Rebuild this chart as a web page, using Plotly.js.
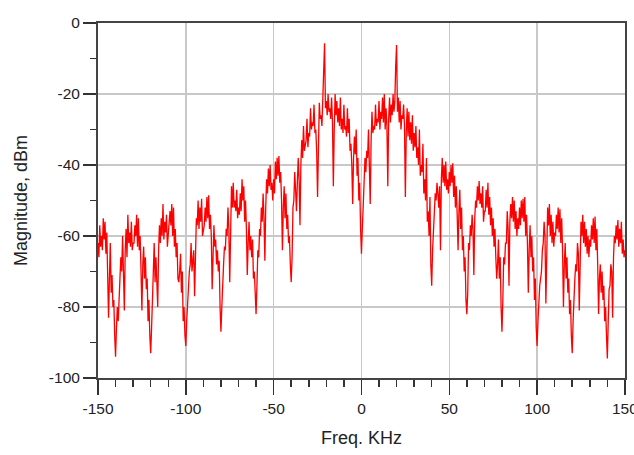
<!DOCTYPE html>
<html>
<head>
<meta charset="utf-8">
<script src="https://cdn.plot.ly/plotly-3.0.1.min.js"></script>
<style>html,body{margin:0;padding:0;background:#fff;}#chart{width:634px;height:455px;}</style>
</head>
<body>
<div id="chart"></div>
<script>
// Frequency axis start and step (kHz)
const freqStart = -150;
const freqStep = 1;
// Magnitude in dBm at each whole kHz from -150 to 150 (upper trace of the band)
const magnitudeDbm = [
  -62, -57, -60, -55, -56, -59, -83, -62, -71, -78,
  -94, -80, -74, -66, -60, -81, -58, -54, -59, -56,
  -62, -57, -54, -55, -60, -81, -63, -66, -72, -78,
  -93, -74, -62, -66, -80, -57, -55, -51, -56, -54,
  -60, -53, -51, -52, -58, -62, -73, -65, -70, -80,
  -91, -78, -70, -62, -66, -77, -55, -50, -52, -49.5,
  -58, -52, -49, -48.5, -54, -75, -57, -61, -64, -67,
  -87, -70, -63, -58, -52, -73, -46, -45, -50, -47,
  -52, -48, -44, -46, -50, -71, -56, -60, -61, -70,
  -82, -64, -58, -52, -48, -67, -44, -41, -40, -45,
  -44, -39, -38, -37.5, -42, -64, -46, -48, -54, -60,
  -73, -52, -42, -53, -38, -57, -33, -29, -34, -27,
  -31, -24, -28, -23, -30, -49, -22.5, -26, -21, -5.7,
  -22, -20, -24, -21, -46, -20, -22, -24, -21, -27,
  -23, -29, -24, -27, -34, -51, -32, -30, -38, -45,
  -65,
  -48, -38, -36, -30, -51, -25, -29, -23, -27, -22,
  -25, -21, -20, -24, -46, -21, -23, -20, -22, -6.2,
  -21, -22, -26, -23, -49, -24, -25, -28, -26, -31,
  -29, -35, -30, -40, -34, -44, -38, -53, -49, -74,
  -58, -48, -45, -52, -64, -38, -40, -39, -44, -42,
  -40, -39.5, -43, -46, -64, -47, -52, -60, -66, -82,
  -62, -57, -54, -71, -50, -46, -44.5, -48, -46, -53,
  -47, -45, -49, -52, -55, -58, -72, -61, -66, -87,
  -66, -62, -53, -74, -51, -49, -50, -53, -55, -52,
  -50, -49.5, -49, -54, -76, -57, -60, -66, -72, -91,
  -78, -72, -64, -56, -79, -52, -51, -54, -56, -59,
  -54, -52, -52.5, -55, -80, -62, -66, -72, -78, -93,
  -76, -68, -62, -81, -56, -54, -56, -58, -60, -61,
  -57, -55, -54.5, -58, -82, -68, -70, -74, -80, -94.5,
  -75, -68, -83, -60, -57, -55.5, -58, -56, -61, -64
];
// Magnitude in dBm at the half-kHz points -149.5 ... 149.5 (lower trace of the band)
const magnitudeHalfDbm = [
  -66, -63, -64, -61, -65, -70, -72, -76, -80, -88,
  -86, -84, -72, -70, -68, -64, -66, -62, -63, -64,
  -62, -60, -63, -64, -70, -68, -72, -75, -84, -88,
  -86, -70, -73, -72, -64, -62, -60, -61, -59, -63,
  -58, -57, -60, -63, -66, -72, -70, -76, -84, -88,
  -84, -74, -68, -70, -64, -62, -57, -58, -56, -60,
  -57, -56, -55, -58, -60, -64, -63, -68, -70, -80,
  -80, -68, -64, -60, -58, -54, -52, -52, -53, -55,
  -54, -53, -50, -56, -58, -62, -64, -66, -72, -76,
  -74, -66, -60, -56, -55, -52, -48, -46, -47, -50,
  -48, -44, -43, -45, -50, -52, -55, -58, -62, -68,
  -66, -50, -47, -45, -44, -40, -38, -36, -33, -35,
  -32, -30, -29, -31, -36, -30, -27, -29, -10, -24,
  -26, -25, -27, -28, -30, -26, -28, -29, -30, -31,
  -30, -32, -31, -36, -40, -38, -37, -43, -50, -58,
  -58, -45, -42, -38, -40, -33, -31, -30, -29, -28,
  -30, -27, -28, -30, -29, -27, -28, -26, -25, -12,
  -25, -28, -30, -27, -29, -31, -32, -33, -34, -36,
  -35, -38, -40, -43, -42, -48, -50, -56, -60, -68,
  -64, -55, -50, -48, -46, -44, -45, -46, -47, -48,
  -46, -45, -49, -52, -54, -53, -58, -64, -70, -78,
  -76, -64, -60, -58, -55, -52, -50, -51, -52, -56,
  -53, -52, -54, -57, -60, -63, -66, -68, -72, -80,
  -78, -68, -62, -58, -56, -55, -56, -58, -60, -58,
  -57, -55, -56, -60, -62, -64, -66, -70, -78, -86,
  -84, -74, -70, -62, -60, -58, -57, -60, -62, -63,
  -60, -58, -59, -62, -64, -68, -72, -76, -82, -88,
  -84, -72, -70, -65, -62, -60, -62, -63, -65, -66,
  -63, -61, -62, -64, -68, -72, -76, -78, -84, -88,
  -84, -74, -70, -66, -62, -61, -63, -62, -65, -66
];

const freqKHz = [];
const magAll = [];
for (let i = 0; i < magnitudeDbm.length; i++) {
  const f = freqStart + i * freqStep;
  freqKHz.push(f); magAll.push(magnitudeDbm[i]);
  if (i < magnitudeHalfDbm.length) {
    freqKHz.push(f + freqStep / 2); magAll.push(magnitudeHalfDbm[i]);
  }
}

const xTickVals = [-150, -100, -50, 0, 50, 100, 150];
const xTickText = ["-150", "-100", "-50", "0", "50", "100", "150"];
const yTickVals = [0, -20, -40, -60, -80, -100];
const yTickText = ["0", "-20", "-40", "-60", "-80", "-100"];

const fontFam = "Liberation Sans, Arial, sans-serif";
const txtCol = "#222222";

Plotly.newPlot("chart", [{
  x: freqKHz,
  y: magAll,
  type: "scatter",
  mode: "lines",
  line: {color: "#ff0000", width: 1.3},
  hoverinfo: "skip"
}], {
  width: 634,
  height: 455,
  margin: {l: 98, r: 9, t: 23, b: 77},
  paper_bgcolor: "#ffffff",
  plot_bgcolor: "#ffffff",
  showlegend: false,
  font: {family: fontFam, size: 15.5, color: txtCol},
  xaxis: {
    range: [-150, 150.05],
    tickvals: xTickVals,
    ticktext: xTickText,
    ticklabeloverflow: "allow",
    ticks: "outside",
    ticklen: 15,
    tickwidth: 1.5,
    tickcolor: "#333333",
    showline: true,
    linewidth: 2,
    linecolor: "#444444",
    mirror: true,
    showgrid: true,
    gridcolor: "#c8c8c8",
    gridwidth: 1.5,
    zeroline: false,
    minor: {dtick: 10, ticks: "outside", ticklen: 7, tickwidth: 1.5, tickcolor: "#333333", showgrid: false},
    tickfont: {family: fontFam, size: 15.5, color: txtCol},
    title: {text: "Freq. KHz", font: {family: fontFam, size: 18, color: txtCol}, standoff: 16}
  },
  yaxis: {
    range: [-100, 0],
    tickvals: yTickVals,
    ticktext: yTickText,
    ticks: "outside",
    ticklen: 13,
    tickwidth: 1.5,
    tickcolor: "#333333",
    showline: true,
    linewidth: 2,
    linecolor: "#444444",
    mirror: true,
    showgrid: true,
    gridcolor: "#c8c8c8",
    gridwidth: 1.5,
    zeroline: false,
    minor: {dtick: 10, ticks: "outside", ticklen: 6, tickwidth: 1.5, tickcolor: "#333333", showgrid: false},
    tickfont: {family: fontFam, size: 15.5, color: txtCol},
    title: {text: "Magnitude, dBm", font: {family: fontFam, size: 18, color: txtCol}, standoff: 17}
  }
}, {displayModeBar: false, staticPlot: true});
</script>
</body>
</html>
